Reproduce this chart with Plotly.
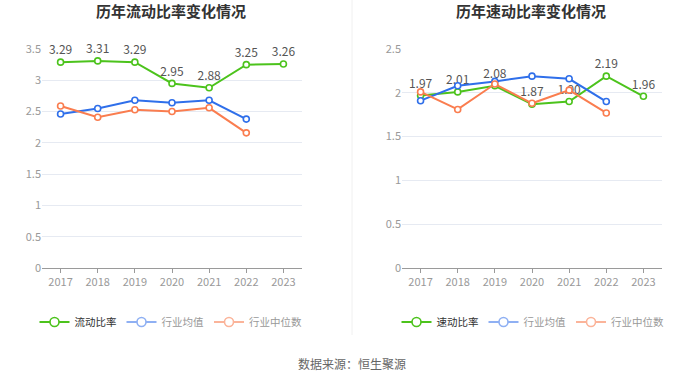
import plotly.graph_objects as go

years = ["2017", "2018", "2019", "2020", "2021", "2022", "2023"]

current_ratio = [3.29, 3.31, 3.29, 2.95, 2.88, 3.25, 3.26]
current_ind_avg = [2.46, 2.55, 2.68, 2.64, 2.68, 2.38, None]
current_ind_med = [2.59, 2.41, 2.53, 2.50, 2.56, 2.16, None]

quick_ratio = [1.97, 2.01, 2.08, 1.87, 1.90, 2.19, 1.96]
quick_ind_avg = [1.91, 2.08, 2.13, 2.19, 2.16, 1.90, None]
quick_ind_med = [2.01, 1.81, 2.10, 1.88, 2.03, 1.77, None]

GREEN = "#4cc31c"
BLUE = "#2f6fea"
ORANGE = "#fa7d4f"
FONT = "Noto Sans CJK SC"

fig = go.Figure()


def add_series(xa, ya, vals, color, name, legend, labels=False, legend_color=None, text_color="#666"):
    fig.add_trace(go.Scatter(
        x=years, y=vals, xaxis=xa, yaxis=ya,
        mode="lines+markers+text" if labels else "lines+markers",
        line=dict(color=color, width=2),
        marker=dict(symbol="circle", size=6, color="white", line=dict(color=color, width=1.6)),
        text=[f"{v:.2f}" for v in vals] if labels else None,
        textposition="top center",
        textfont=dict(family=FONT, size=12, color="#555"),
        showlegend=False, cliponaxis=False, hoverinfo="skip",
    ))
    fig.add_trace(go.Scatter(
        x=[None], y=[None], xaxis=xa, yaxis=ya, mode="lines+markers",
        line=dict(color=legend_color or color, width=2),
        marker=dict(symbol="circle", size=9, color="white", line=dict(color=legend_color or color, width=1.6)),
        name=f"<span style='color:{text_color}'>{name}</span>",
        legend=legend, showlegend=True,
    ))


add_series("x", "y", current_ratio, GREEN, "流动比率", "legend", labels=True, text_color="#333")
add_series("x", "y", current_ind_avg, BLUE, "行业均值", "legend", legend_color="#8fb0f3", text_color="#999")
add_series("x", "y", current_ind_med, ORANGE, "行业中位数", "legend", legend_color="#fbb49a", text_color="#999")

add_series("x2", "y2", quick_ratio, GREEN, "速动比率", "legend2", labels=True, text_color="#333")
add_series("x2", "y2", quick_ind_avg, BLUE, "行业均值", "legend2", legend_color="#8fb0f3", text_color="#999")
add_series("x2", "y2", quick_ind_med, ORANGE, "行业中位数", "legend2", legend_color="#fbb49a", text_color="#999")

ydom = [1 - 268 / 378, 1 - 49 / 378]
xcommon = dict(type="category", range=[-0.5, 6.5], showgrid=False, showline=True, automargin=False,
               linecolor="#9a9a9a", linewidth=1, ticks="outside", ticklen=4, tickcolor="#9a9a9a",
               tickfont=dict(family=FONT, size=11, color="#999"), fixedrange=True)
ycommon = dict(showgrid=True, gridcolor="#e6eaf2", gridwidth=1, zeroline=False, showline=False, automargin=False,
               tickfont=dict(family=FONT, size=11, color="#999"), ticks="", fixedrange=True)

fig.update_layout(
    width=700, height=378,
    margin=dict(l=0, r=0, t=0, b=0, pad=0, autoexpand=False),
    paper_bgcolor="white", plot_bgcolor="white",
    font=dict(family=FONT),
    xaxis=dict(domain=[42 / 700, 302 / 700], anchor="y", **xcommon),
    yaxis=dict(domain=ydom, anchor="x", range=[0, 3.5], tickvals=[0, 0.5, 1, 1.5, 2, 2.5, 3, 3.5],
               ticktext=["0", "0.5", "1", "1.5", "2", "2.5", "3", "3.5"], **ycommon),
    xaxis2=dict(domain=[402 / 700, 662 / 700], anchor="y2", **xcommon),
    yaxis2=dict(domain=ydom, anchor="x2", range=[0, 2.5], tickvals=[0, 0.5, 1, 1.5, 2, 2.5],
                ticktext=["0", "0.5", "1", "1.5", "2", "2.5"], **ycommon),
    legend=dict(orientation="h", x=171 / 700, y=1 - 322 / 378, xanchor="center", yanchor="middle",
                font=dict(family=FONT, size=10.5), itemwidth=30, bgcolor="rgba(0,0,0,0)"),
    legend2=dict(orientation="h", x=533 / 700, y=1 - 322 / 378, xanchor="center", yanchor="middle",
                 font=dict(family=FONT, size=10.5), itemwidth=30, bgcolor="rgba(0,0,0,0)"),
    showlegend=True,
    annotations=[
        dict(text="<b>历年流动比率变化情况</b>", x=171 / 700, y=1 - 11 / 378, xref="paper", yref="paper",
             showarrow=False, font=dict(family=FONT, size=15, color="#333"), xanchor="center", yanchor="middle"),
        dict(text="<b>历年速动比率变化情况</b>", x=531 / 700, y=1 - 11 / 378, xref="paper", yref="paper",
             showarrow=False, font=dict(family=FONT, size=15, color="#333"), xanchor="center", yanchor="middle"),
        dict(text="数据来源：恒生聚源", x=352 / 700, y=1 - 363 / 378, xref="paper", yref="paper",
             showarrow=False, font=dict(family=FONT, size=12, color="#666"), xanchor="center", yanchor="middle"),
    ],
    shapes=[dict(type="line", xref="paper", yref="paper", x0=352 / 700, x1=352 / 700, y0=1 - 335 / 378, y1=1,
                 line=dict(color="#f0f0f0", width=1))],
)

fig.write_html("out.html", post_script="document.body.style.margin='0px';",
               config={"displayModeBar": False})
